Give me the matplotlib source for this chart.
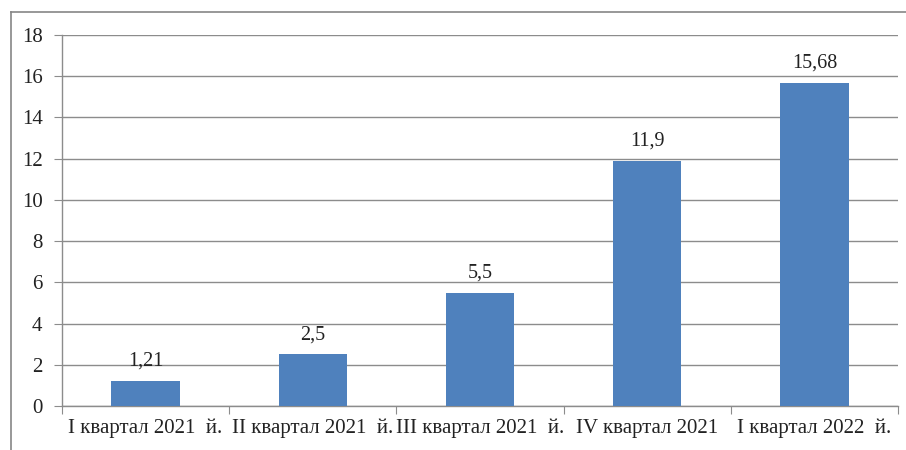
import matplotlib
matplotlib.use("Agg")
import matplotlib.pyplot as plt
from matplotlib.lines import Line2D

categories = ["I квартал 2021  й.", "II квартал 2021  й.", "III квартал 2021  й.", "IV квартал 2021", "I квартал 2022  й."]
values = [1.21, 2.5, 5.5, 11.9, 15.68]
value_labels = ["1,21", "2,5", "5,5", "11,9", "15,68"]
yticks = [0, 2, 4, 6, 8, 10, 12, 14, 16, 18]

plt.rcParams['font.family'] = ['Liberation Serif', 'DejaVu Serif']

W, H = 906, 450
fig = plt.figure(figsize=(W/100, H/100), dpi=100)
# outer chart border (only top and left visible in the crop)
fig.lines.append(Line2D([11/W, 1.0], [1 - 12/H, 1 - 12/H], transform=fig.transFigure,
                        color='#868686', linewidth=1.2))
fig.lines.append(Line2D([11/W, 11/W], [0.0, 1 - 12/H], transform=fig.transFigure,
                        color='#868686', linewidth=1.2))
ax = fig.add_axes([62/W, 1 - 406/H, (898-62)/W, (406-35)/H])

x = list(range(len(categories)))
ax.bar(x, values, width=0.41, color='#4F81BD', zorder=3)
for xi, v, lab in zip(x, values, value_labels):
    ax.text(xi, v + 0.5, lab, ha='center', va='bottom', fontsize=14.5, color='#222222')

ax.set_xlim(-0.5, len(categories) - 0.5)
ax.set_ylim(0, 18)
ax.set_yticks(yticks)
ax.set_yticklabels([str(t) for t in yticks], fontsize=15, color='#222222')
ax.yaxis.grid(True, color='#8c8c8c', linewidth=1.0, zorder=0)
ax.set_axisbelow(True)

ax.set_xticks([i - 0.5 for i in range(len(categories) + 1)], minor=False)
ax.set_xticklabels([])
ax.set_xticks(x, minor=True)
ax.set_xticklabels(categories, minor=True, fontsize=15, color='#222222')
ax.tick_params(axis='x', which='major', length=6, color='#8c8c8c', direction='out')
ax.tick_params(axis='x', which='minor', length=0, pad=9)
ax.tick_params(axis='y', length=6, color='#8c8c8c', pad=8)

for s in ['top', 'right']:
    ax.spines[s].set_visible(False)
for s in ['left', 'bottom']:
    ax.spines[s].set_color('#8c8c8c')
    ax.spines[s].set_linewidth(1.0)

fig.savefig('out.png', dpi=100)
